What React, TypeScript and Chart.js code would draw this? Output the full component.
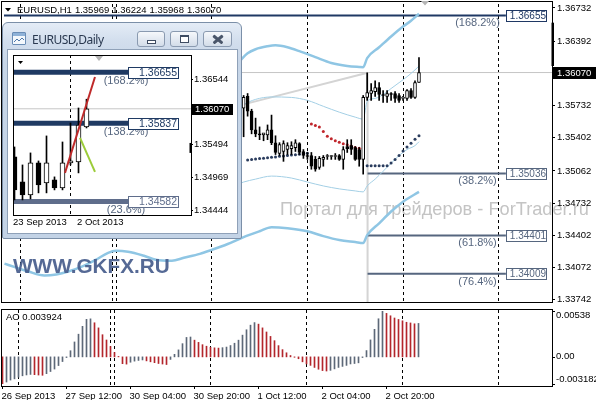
import React, { useEffect, useRef } from 'react';
import { Chart, registerables } from 'chart.js';

Chart.register(...registerables);

const FONT = "'Liberation Sans', Arial, Helvetica, sans-serif";
const AXIS_FONT_SIZE = 9.5;

// ---------------- H1 main chart data ----------------
const h1Title = 'EURUSD,H1';
const h1TitleValues = ['1.35969', '1.36224', '1.35968', '1.36070'];
const h1FirstBar = 60;
const h1Open = [1.35704, 1.35825, 1.35674, 1.35482, 1.35442, 1.35432, 1.35432, 1.35482, 1.35351, 1.3524, 1.35261, 1.35281, 1.35291, 1.35301, 1.35341, 1.35261, 1.3522, 1.3522, 1.3518, 1.35099, 1.3518, 1.3521, 1.3521, 1.3521, 1.3522, 1.3518, 1.35311, 1.35321, 1.35301, 1.35281, 1.3518, 1.35815, 1.35855, 1.35875, 1.35916, 1.35845, 1.35825, 1.35855, 1.35855, 1.35835, 1.35805, 1.35805, 1.35885, 1.35815, 1.35969];
const h1High = [1.35835, 1.35855, 1.35694, 1.35603, 1.35513, 1.35442, 1.35533, 1.35634, 1.35422, 1.35351, 1.35371, 1.35351, 1.35361, 1.35382, 1.35351, 1.35281, 1.35251, 1.35251, 1.3521, 1.3521, 1.3522, 1.3523, 1.3522, 1.3524, 1.3523, 1.35311, 1.35382, 1.35382, 1.35311, 1.35301, 1.35835, 1.36067, 1.35956, 1.35986, 1.35966, 1.35885, 1.35885, 1.35865, 1.35875, 1.35855, 1.35825, 1.35896, 1.35906, 1.35986, 1.36224];
const h1Low = [1.35412, 1.35623, 1.35442, 1.35412, 1.35382, 1.35371, 1.35382, 1.35331, 1.3523, 1.3522, 1.3516, 1.3523, 1.3523, 1.35261, 1.3523, 1.3519, 1.3518, 1.35079, 1.35059, 1.35079, 1.3511, 1.3518, 1.3518, 1.3518, 1.3517, 1.35079, 1.35251, 1.3523, 1.3517, 1.3511, 1.35029, 1.35785, 1.35785, 1.35825, 1.35785, 1.35765, 1.35765, 1.35785, 1.35765, 1.35765, 1.35785, 1.35785, 1.35805, 1.35805, 1.35968];
const h1Close = [1.35815, 1.35674, 1.35482, 1.35442, 1.35432, 1.35452, 1.35482, 1.35351, 1.35251, 1.35331, 1.35341, 1.35321, 1.35321, 1.35351, 1.35251, 1.3522, 1.3521, 1.3511, 1.35079, 1.3519, 1.352, 1.3521, 1.3521, 1.3522, 1.3518, 1.35281, 1.35291, 1.35281, 1.3518, 1.3518, 1.35815, 1.35865, 1.35885, 1.35916, 1.35845, 1.35835, 1.35855, 1.35845, 1.35805, 1.35785, 1.35805, 1.35885, 1.35815, 1.35966, 1.3607];
const h1Bars = h1Open.map((_, k) => h1FirstBar + k);

const priceTicks = [1.36732, 1.36392, 1.35732, 1.35402, 1.35062, 1.34732, 1.34402, 1.34072, 1.33742];
const lastPrice = 1.3607;
const priceMin = 1.337188;
const priceMax = 1.367723;
const barMin = -0.125;
const barMax = 137.375;
const dayGridBars = [4, 27, 28, 52, 76, 100, 124];
const timeLabelBars = [0, 16, 32, 48, 64, 80, 96];
const timeLabels = ['26 Sep 2013', '27 Sep 12:00', '30 Sep 04:00', '30 Sep 20:00', '1 Oct 12:00', '2 Oct 04:00', '2 Oct 20:00'];

// Bands (outer thick, inner thin)
const outerUpperBars = [58, 59, 61, 63, 66, 68, 71, 74, 78, 82, 86, 89, 90, 91, 94, 97, 100, 102, 104];
const outerUpperVals = [1.36148, 1.36188, 1.36268, 1.36309, 1.36339, 1.36349, 1.36329, 1.36289, 1.36228, 1.36168, 1.36137, 1.36127, 1.36125, 1.36218, 1.36329, 1.3644, 1.36541, 1.36601, 1.36672];
const innerUpperBars = [58, 60, 63, 67, 72, 76, 80, 84, 88, 90, 91, 93, 95, 97, 99, 101, 103, 104];
const innerUpperVals = [1.35704, 1.35744, 1.35795, 1.3582, 1.35815, 1.35785, 1.35724, 1.35664, 1.35613, 1.35593, 1.35775, 1.35805, 1.35845, 1.35906, 1.35966, 1.36027, 1.36097, 1.36137];
const outerLowerBars = [0, 3, 6, 10, 13, 16, 20, 23, 26, 28, 31, 35, 38, 42, 45, 49, 52, 56, 60, 64, 67, 71, 76, 80, 84, 88, 90, 91, 94, 97, 100, 104];
const outerLowerVals = [1.34112, 1.34071, 1.34031, 1.33991, 1.34001, 1.34031, 1.34092, 1.34152, 1.34223, 1.34243, 1.34233, 1.34192, 1.34152, 1.34142, 1.34172, 1.34212, 1.34253, 1.34313, 1.34384, 1.34444, 1.34485, 1.34475, 1.34444, 1.34394, 1.34354, 1.34333, 1.34323, 1.34404, 1.34525, 1.34646, 1.34747, 1.34847];
const innerLowerBars = [58, 60, 63, 67, 72, 76, 80, 84, 88, 90, 91, 93, 95, 97, 99, 101, 103, 104];
const innerLowerVals = [1.34918, 1.34948, 1.34978, 1.35009, 1.34989, 1.34948, 1.34908, 1.34878, 1.34857, 1.34847, 1.34908, 1.34978, 1.35059, 1.3514, 1.3522, 1.35281, 1.35321, 1.35361];

// Parabolic SAR
const sarUpBarsA = [61, 62, 63, 64, 65, 66, 67, 68, 69, 70, 71, 72, 73, 74, 75, 76];
const sarUpValsA = [1.35175, 1.35179, 1.35185, 1.35188, 1.35193, 1.35196, 1.35202, 1.35205, 1.35211, 1.35214, 1.3522, 1.35224, 1.35228, 1.35234, 1.35237, 1.35243];
const sarDownBars = [77, 78, 79, 80, 81, 82, 83, 84, 85, 86, 87, 88, 89, 90];
const sarDownVals = [1.35543, 1.35528, 1.35512, 1.35467, 1.35417, 1.35391, 1.35371, 1.35356, 1.35341, 1.35331, 1.35316, 1.35301, 1.35295, 1.3529];
const sarUpBarsB = [91, 92, 93, 94, 95, 96, 97, 98, 99, 100, 101, 102, 103, 104];
const sarUpValsB = [1.35114, 1.35114, 1.35114, 1.35114, 1.35114, 1.35114, 1.35144, 1.3518, 1.3522, 1.35265, 1.35306, 1.35346, 1.35386, 1.35422];

// Fibonacci objects
const fibTrendBars = [60, 91.1];
const fibTrendPrices = [1.35744, 1.36067];
const fibAnchorBar = 91.1;
const fibAnchorHigh = 1.36067;
const fibAnchorLow = 1.3355;
const mainFibLevels = [1.36655, 1.35036, 1.34401, 1.34009];
const mainFibLabels = ['(168.2%)', '(38.2%)', '(61.8%)', '(76.4%)'];
const mainFibStart = [-0.125, 91.1, 91.1, 91.1];
const mainFibEnd = 125.8;
const mainFibColors = ['#1f3864', '#56667f', '#56667f', '#56667f'];
const axisMarkTop = 1.36581;
const axisMarkBottom = 1.36137;

// ---------------- AO ----------------
const aoLabel = 'AO 0.003924';
const aoTicks = [0.00538, 0, -0.003182];
const aoTickLabels = ['0.00538', '0.00', '-0.003182'];
const aoValues = [
  -0.003182, -0.00295, -0.00272, -0.00258, -0.00238, -0.00222, -0.00212, -0.00206, -0.00209, -0.00213,
  -0.00216, -0.00197, -0.00172, -0.00143, -0.00102, -0.00055, -0.00008, 0.00072, 0.00175, 0.00266,
  0.00358, 0.0044, 0.00446, 0.004, 0.0034, 0.0026, 0.00198, 0.00122, 0.00052, 0.00005,
  -0.0008, -0.00085, -0.00063, -0.0005, -0.00042, -0.00036, -0.00047, -0.00058, -0.00068, -0.00078,
  -0.00084, -0.0009, -0.0003, 0.0003, 0.00082, 0.00155, 0.00228, 0.00233, 0.00196, 0.0017,
  0.00143, 0.00125, 0.00112, 0.00106, 0.00103, 0.00108, 0.00115, 0.00133, 0.0016, 0.00196,
  0.00255, 0.00318, 0.00372, 0.00402, 0.00384, 0.0034, 0.00292, 0.0024, 0.0019, 0.00132,
  0.00085, 0.00048, 0.00016, -0.00005, -0.00022, -0.00058, -0.00083, -0.001, -0.00124, -0.00145,
  -0.00161, -0.00166, -0.00158, -0.00141, -0.00124, -0.00112, -0.001, -0.00083, -0.00078, -0.0007,
  -0.00008, 0.00074, 0.00199, 0.00323, 0.00447, 0.00538, 0.0051, 0.00482, 0.00456, 0.00439,
  0.00423, 0.00406, 0.00398, 0.00388, 0.003924,
];

// ---------------- Daily inset ----------------
const dailyOpen = [1.35297, 1.34895, 1.34687, 1.352, 1.34879, 1.34927, 1.34799, 1.352, 1.35216, 1.35778];
const dailyHigh = [1.35457, 1.35168, 1.35361, 1.35232, 1.35634, 1.34976, 1.35537, 1.35842, 1.36083, 1.36224];
const dailyLow = [1.34606, 1.34606, 1.34622, 1.34719, 1.34719, 1.34767, 1.34767, 1.35168, 1.3504, 1.35762];
const dailyClose = [1.34767, 1.34687, 1.352, 1.34847, 1.352, 1.34799, 1.352, 1.35232, 1.3581, 1.3607];
const dailyBars = dailyOpen.map((_, k) => k);
const dailyLabelBars = [0, 8];
const dailyLabels = ['23 Sep 2013', '2 Oct 2013'];
const dailyGridBars = [7];
const dailyTicks = [1.36544, 1.35494, 1.34969, 1.34444];
const dailyBarMin = -0.1875;
const dailyBarMax = 22.0625;
const dailyPriceMin = 1.343637;
const dailyPriceMax = 1.369341;
const dailyFibLevels = [1.36655, 1.35837, 1.34582];
const dailyFibLabels = ['(168.2%)', '(138.2%)', '(23.6%)'];
const dailyFibColors = ['#1f3a63', '#1f3a63', '#5f6d8b'];
const dailyFibEnd = 14.19;
const redTrendBars = [6.31, 10.06];
const redTrendPrices = [1.3504, 1.36581];
const greenTrendBars = [8.19, 10.06];
const greenTrendPrices = [1.35602, 1.35056];
const dailyAxisMarkTop = 1.35521;
const dailyAxisMarkBottom = 1.35361;

const forTraderText = 'Портал для трейдеров - ForTrader.ru';
const gkfxText = 'WWW.GKFX.RU';

// ---------------- helpers ----------------
function lineSet(xs: number[], ys: number[], color: string, width: number, order: number, extra: any = {}) {
  return {
    type: 'line',
    data: xs.map((x, k) => ({ x, y: ys[k] })),
    borderColor: color,
    borderWidth: width,
    pointRadius: 0,
    fill: false,
    order,
    clip: 0,
    ...extra,
  };
}
function dotSet(xs: number[], ys: number[], color: string) {
  return {
    type: 'line',
    data: xs.map((x, k) => ({ x, y: ys[k] })),
    showLine: false,
    pointRadius: 1.5,
    pointBackgroundColor: color,
    pointBorderWidth: 0,
    order: 2,
  };
}
function candleSets(bars: number[], o: number[], h: number[], l: number[], c: number[], bodyW: number) {
  return [
    {
      type: 'bar',
      data: bars.map((b, k) => ({ x: b, y: [l[k], h[k]] })),
      backgroundColor: '#000',
      barThickness: 1,
      grouped: false,
      order: 1,
    },
    {
      type: 'bar',
      data: bars.map((b, k) => ({ x: b, y: [o[k], c[k]] })),
      backgroundColor: bars.map((_, k) => (c[k] >= o[k] ? '#ffffff' : '#000000')),
      borderColor: '#000',
      borderWidth: 1,
      borderSkipped: false,
      barThickness: bodyW,
      grouped: false,
      minBarLength: 1,
      order: 0,
    },
  ];
}
function fitFont(ctx: CanvasRenderingContext2D, text: string, weight: string, target: number, base: number) {
  ctx.font = `${weight} ${base}px ${FONT}`;
  const w = ctx.measureText(text).width;
  const size = (base * target) / w;
  ctx.font = `${weight} ${size.toFixed(2)}px ${FONT}`;
}
function dashedV(ctx: CanvasRenderingContext2D, px: number, top: number, bottom: number) {
  const x = Math.floor(px) + 0.5;
  ctx.beginPath();
  ctx.moveTo(x, top);
  ctx.lineTo(x, bottom);
  ctx.stroke();
}

// ---------------- main chart ----------------
const mainDecor = {
  id: 'mainDecor',
  beforeDraw(chart: any) {
    const { ctx } = chart;
    ctx.save();
    fitFont(ctx, forTraderText, 'normal', 309, 16);
    ctx.fillStyle = '#c4c4c4';
    ctx.textAlign = 'left';
    ctx.textBaseline = 'alphabetic';
    ctx.fillText(forTraderText, 280, 215);
    ctx.restore();
  },
  beforeDatasetsDraw(chart: any) {
    const { ctx, chartArea: a, scales } = chart;
    ctx.save();
    ctx.strokeStyle = '#000';
    ctx.lineWidth = 1;
    ctx.setLineDash([3, 3]);
    dayGridBars.forEach((b) => dashedV(ctx, scales.x.getPixelForValue(b), a.top, a.bottom));
    ctx.restore();
  },
  afterDatasetsDraw(chart: any) {
    const { ctx, scales } = chart;
    const x = scales.x;
    const y = scales.y;
    ctx.save();
    const bx = Math.round(x.getPixelForValue(mainFibEnd));
    mainFibLevels.forEach((lv, k) => {
      const py = y.getPixelForValue(lv);
      const col = mainFibColors[k];
      ctx.font = `11px ${FONT}`;
      ctx.fillStyle = '#56667f';
      ctx.textAlign = 'center';
      ctx.textBaseline = 'middle';
      ctx.fillText(mainFibLabels[k], bx - 28.5, py + 8);
      const top = Math.round(py - 5.5);
      ctx.fillStyle = '#fff';
      ctx.fillRect(bx, top, 41, 11);
      ctx.strokeStyle = col;
      ctx.lineWidth = 1;
      ctx.strokeRect(bx + 0.5, top + 0.5, 40, 11);
      ctx.font = `10px ${FONT}`;
      ctx.fillStyle = col;
      ctx.textAlign = 'right';
      ctx.fillText(lv.toFixed(5), bx + 40, top + 6.5);
    });
    fitFont(ctx, gkfxText, 'bold', 157, 21);
    ctx.fillStyle = 'rgba(70,92,140,0.92)';
    ctx.textAlign = 'left';
    ctx.textBaseline = 'alphabetic';
    ctx.fillText(gkfxText, 13, 273);
    ctx.restore();
  },
  afterDraw(chart: any) {
    const { ctx, chartArea: a, scales } = chart;
    const y = scales.y;
    ctx.save();
    ctx.strokeStyle = '#000';
    ctx.lineWidth = 1;
    ctx.strokeRect(1.5, 1.5, a.right - 1, a.bottom - 1);
    const t = y.getPixelForValue(axisMarkTop);
    const b = y.getPixelForValue(axisMarkBottom);
    ctx.fillStyle = '#000';
    ctx.fillRect(a.right - 0.5, t, 2.5, b - t);
    const py = Math.round(y.getPixelForValue(lastPrice));
    ctx.fillStyle = '#000';
    ctx.fillRect(a.right + 1, py - 6, 596 - a.right - 1, 12);
    ctx.fillStyle = '#fff';
    ctx.font = `${AXIS_FONT_SIZE}px ${FONT}`;
    ctx.textAlign = 'left';
    ctx.textBaseline = 'middle';
    ctx.fillText(lastPrice.toFixed(5), a.right + 5, py + 0.5);
    ctx.fillStyle = '#000';
    ctx.beginPath();
    ctx.moveTo(5, 8);
    ctx.lineTo(11, 8);
    ctx.lineTo(8, 11.5);
    ctx.closePath();
    ctx.fill();
    ctx.font = `${AXIS_FONT_SIZE}px ${FONT}`;
    ctx.textBaseline = 'alphabetic';
    let tx = 17;
    [h1Title, ...h1TitleValues].forEach((s) => {
      ctx.fillText(s, tx, 12.5);
      tx += ctx.measureText(s).width + 3;
    });
    ctx.fillStyle = '#b4b4b4';
    ctx.beginPath();
    ctx.moveTo(421, 1);
    ctx.lineTo(429, 1);
    ctx.lineTo(425, 5.5);
    ctx.closePath();
    ctx.fill();
    ctx.restore();
  },
};

function buildMain() {
  const datasets: any[] = [
    lineSet([barMin, barMax], [lastPrice, lastPrice], '#c6c6c6', 1, 9),
    lineSet(fibTrendBars, fibTrendPrices, '#d4d4d4', 2, 8),
    lineSet([fibAnchorBar, fibAnchorBar], [fibAnchorHigh, fibAnchorLow], '#d4d4d4', 2, 8),
    ...mainFibLevels.map((lv, k) => lineSet([mainFibStart[k], mainFibEnd], [lv, lv], mainFibColors[k], 2, 7)),
    lineSet(outerUpperBars, outerUpperVals, '#8fc6e4', 2.5, 6, { cubicInterpolationMode: 'monotone' }),
    lineSet(outerLowerBars, outerLowerVals, '#8fc6e4', 2.5, 6, { cubicInterpolationMode: 'monotone' }),
    lineSet(innerUpperBars, innerUpperVals, '#a3cfe5', 1, 6, { cubicInterpolationMode: 'monotone' }),
    lineSet(innerLowerBars, innerLowerVals, '#a3cfe5', 1, 6, { cubicInterpolationMode: 'monotone' }),
    dotSet(sarUpBarsA, sarUpValsA, '#2b3d5e'),
    dotSet(sarDownBars, sarDownVals, '#c0262c'),
    dotSet(sarUpBarsB, sarUpValsB, '#2b3d5e'),
    ...candleSets(h1Bars, h1Open, h1High, h1Low, h1Close, 3),
  ];
  return {
    type: 'bar',
    data: { datasets },
    options: {
      responsive: false,
      animation: false,
      devicePixelRatio: 1,
      events: [],
      layout: { padding: { left: 2, top: 2, right: 0, bottom: 1 } },
      plugins: { legend: { display: false }, tooltip: { enabled: false } },
      scales: {
        x: { type: 'linear', min: barMin, max: barMax, display: false, offset: false },
        y: {
          type: 'linear',
          position: 'right',
          min: priceMin,
          max: priceMax,
          afterBuildTicks: (s: any) => {
            s.ticks = priceTicks.map((v) => ({ value: v }));
          },
          afterFit: (s: any) => {
            s.width = 44;
            s.paddingTop = 0;
            s.paddingBottom = 0;
          },
          ticks: {
            autoSkip: false,
            padding: 2,
            color: '#000',
            font: { family: FONT, size: AXIS_FONT_SIZE },
            callback: (v: any) => Number(v).toFixed(5),
          },
          grid: { drawOnChartArea: false, drawTicks: true, tickLength: 3, color: '#000' },
          border: { display: true, color: '#000' },
        },
      },
    },
    plugins: [mainDecor],
  };
}

// ---------------- AO chart ----------------
const aoDecor = {
  id: 'aoDecor',
  beforeDatasetsDraw(chart: any) {
    const { ctx, scales } = chart;
    ctx.save();
    ctx.strokeStyle = '#000';
    ctx.lineWidth = 1;
    ctx.setLineDash([3, 3]);
    dayGridBars.forEach((b) => dashedV(ctx, scales.x.getPixelForValue(b), 4, 80));
    ctx.restore();
  },
  afterDraw(chart: any) {
    const { ctx, chartArea: a, scales } = chart;
    ctx.save();
    ctx.strokeStyle = '#000';
    ctx.lineWidth = 1;
    ctx.strokeRect(1.5, 3.5, a.right - 1, 77);
    ctx.font = `${AXIS_FONT_SIZE}px ${FONT}`;
    ctx.fillStyle = '#000';
    ctx.textAlign = 'left';
    ctx.textBaseline = 'middle';
    aoTicks.forEach((v, k) => {
      const py = scales.y.getPixelForValue(v);
      ctx.beginPath();
      ctx.moveTo(a.right, Math.round(py) + 0.5);
      ctx.lineTo(a.right + 3, Math.round(py) + 0.5);
      ctx.stroke();
      const ly = Math.min(Math.max(py, a.top + 4), a.bottom - 5);
      ctx.fillText(aoTickLabels[k], a.right + 4, ly);
    });
    ctx.fillText(aoLabel, 6, 11);
    ctx.textBaseline = 'alphabetic';
    timeLabelBars.forEach((b, k) => {
      const px = scales.x.getPixelForValue(b);
      ctx.beginPath();
      ctx.moveTo(Math.floor(px) + 0.5, 80);
      ctx.lineTo(Math.floor(px) + 0.5, 83);
      ctx.stroke();
      ctx.fillText(timeLabels[k], px - 1, 92.5);
    });
    ctx.restore();
  },
};

function buildAO() {
  const colors = aoValues.map((v, i) => (i > 0 && v > aoValues[i - 1] ? '#5d6878' : '#b3262c'));
  return {
    type: 'bar',
    data: {
      datasets: [
        {
          data: aoValues.map((v, i) => ({ x: i, y: v })),
          backgroundColor: colors,
          barThickness: 1,
          grouped: false,
        },
      ],
    },
    options: {
      responsive: false,
      animation: false,
      devicePixelRatio: 1,
      events: [],
      layout: { padding: { left: 2, top: 5, right: 44, bottom: 16 } },
      plugins: { legend: { display: false }, tooltip: { enabled: false } },
      scales: {
        x: { type: 'linear', min: barMin, max: barMax, display: false, offset: false },
        y: { type: 'linear', min: aoTicks[2], max: aoTicks[0], display: false },
      },
    },
    plugins: [aoDecor],
  };
}

// ---------------- Daily inset ----------------
const insetDecor = {
  id: 'insetDecor',
  beforeDatasetsDraw(chart: any) {
    const { ctx, chartArea: a, scales } = chart;
    ctx.save();
    ctx.strokeStyle = '#000';
    ctx.lineWidth = 1;
    ctx.setLineDash([3, 3]);
    dailyGridBars.forEach((b) => dashedV(ctx, scales.x.getPixelForValue(b), a.top, a.bottom));
    ctx.restore();
  },
  afterDatasetsDraw(chart: any) {
    const { ctx, scales } = chart;
    ctx.save();
    const bx = Math.round(scales.x.getPixelForValue(dailyFibEnd));
    dailyFibLevels.forEach((lv, k) => {
      const py = scales.y.getPixelForValue(lv);
      ctx.font = `11px ${FONT}`;
      ctx.fillStyle = '#56667f';
      ctx.textAlign = 'center';
      ctx.textBaseline = 'middle';
      ctx.fillText(dailyFibLabels[k], bx - 2, py + 8.5);
      const top = Math.round(py - 5.5);
      ctx.fillStyle = '#fff';
      ctx.fillRect(bx, top, 51, 12);
      ctx.strokeStyle = dailyFibColors[k];
      ctx.lineWidth = 1;
      ctx.strokeRect(bx + 0.5, top + 0.5, 50, 11);
      ctx.font = `10.5px ${FONT}`;
      ctx.fillStyle = dailyFibColors[k];
      ctx.textAlign = 'right';
      ctx.fillText(lv.toFixed(5), bx + 49, top + 6.5);
    });
    ctx.restore();
  },
  afterDraw(chart: any) {
    const { ctx, chartArea: a, scales } = chart;
    const y = scales.y;
    ctx.save();
    ctx.strokeStyle = '#000';
    ctx.lineWidth = 1;
    ctx.strokeRect(a.left + 0.5, a.top + 0.5, a.right - a.left, a.bottom - a.top);
    const t = y.getPixelForValue(dailyAxisMarkTop);
    const b = y.getPixelForValue(dailyAxisMarkBottom);
    ctx.fillStyle = '#000';
    ctx.fillRect(a.right - 1.5, t, 2.5, b - t);
    const py = Math.round(y.getPixelForValue(lastPrice));
    ctx.fillRect(a.right + 1, py - 5, 41, 11);
    ctx.fillStyle = '#fff';
    ctx.font = `${AXIS_FONT_SIZE}px ${FONT}`;
    ctx.textAlign = 'left';
    ctx.textBaseline = 'middle';
    ctx.fillText(lastPrice.toFixed(5), a.right + 4, py + 0.5);
    ctx.fillStyle = '#000';
    ctx.textBaseline = 'alphabetic';
    dailyLabelBars.forEach((bar, k) => {
      const px = scales.x.getPixelForValue(bar);
      ctx.fillText(dailyLabels[k], Math.max(px - 1.5, a.left), a.bottom + 10);
    });
    ctx.beginPath();
    ctx.moveTo(a.left + 5, a.top + 6);
    ctx.lineTo(a.left + 10, a.top + 6);
    ctx.lineTo(a.left + 7.5, a.top + 9);
    ctx.closePath();
    ctx.fill();
    ctx.fillStyle = '#b4b4b4';
    ctx.beginPath();
    ctx.moveTo(a.left + 82, a.top + 1);
    ctx.lineTo(a.left + 90, a.top + 1);
    ctx.lineTo(a.left + 86, a.top + 6);
    ctx.closePath();
    ctx.fill();
    ctx.restore();
  },
};

function buildInset() {
  const datasets: any[] = [
    lineSet([dailyBarMin, dailyBarMax], [lastPrice, lastPrice], '#c6c6c6', 1, 9),
    ...dailyFibLevels.map((lv, k) => lineSet([dailyBarMin, dailyFibEnd], [lv, lv], dailyFibColors[k], 5, 7)),
    ...candleSets(dailyBars, dailyOpen, dailyHigh, dailyLow, dailyClose, 5),
    lineSet(redTrendBars, redTrendPrices, '#bf2a2a', 2, -1),
    lineSet(greenTrendBars, greenTrendPrices, '#9ccc3a', 2, -1),
  ];
  return {
    type: 'bar',
    data: { datasets },
    options: {
      responsive: false,
      animation: false,
      devicePixelRatio: 1,
      events: [],
      layout: { padding: { left: 5, top: 5, right: 0, bottom: 18 } },
      plugins: { legend: { display: false }, tooltip: { enabled: false } },
      scales: {
        x: { type: 'linear', min: dailyBarMin, max: dailyBarMax, display: false, offset: false },
        y: {
          type: 'linear',
          position: 'right',
          min: dailyPriceMin,
          max: dailyPriceMax,
          afterBuildTicks: (s: any) => {
            s.ticks = dailyTicks.map((v) => ({ value: v }));
          },
          afterFit: (s: any) => {
            s.width = 46;
            s.paddingTop = 0;
            s.paddingBottom = 0;
          },
          ticks: {
            autoSkip: false,
            padding: 1,
            color: '#000',
            font: { family: FONT, size: AXIS_FONT_SIZE },
            callback: (v: any) => Number(v).toFixed(5),
          },
          grid: { drawOnChartArea: false, drawTicks: true, tickLength: 2, color: '#000' },
          border: { display: false },
        },
      },
    },
    plugins: [insetDecor],
  };
}

const btnStyle: any = {
  position: 'absolute',
  top: 8,
  height: 16,
  boxSizing: 'border-box',
  border: '1px solid #8a9ab0',
  borderRadius: 3,
  background: 'linear-gradient(180deg, #f6f8fb 0%, #e4eaf2 50%, #d3dde9 100%)',
};

export default function App() {
  const mainRef = useRef<HTMLCanvasElement>(null);
  const aoRef = useRef<HTMLCanvasElement>(null);
  const insetRef = useRef<HTMLCanvasElement>(null);

  useEffect(() => {
    const charts = [
      new Chart(mainRef.current as any, buildMain() as any),
      new Chart(aoRef.current as any, buildAO() as any),
      new Chart(insetRef.current as any, buildInset() as any),
    ];
    return () => charts.forEach((c) => c.destroy());
  }, []);

  return (
    <div style={{ position: 'fixed', left: 0, top: 0, width: 596, height: 400, background: '#fff', overflow: 'hidden' }}>
      <canvas ref={mainRef} width={596} height={306} style={{ position: 'absolute', left: 0, top: 0 }} />
      <canvas ref={aoRef} width={596} height={94} style={{ position: 'absolute', left: 0, top: 306 }} />
      <div
        style={{
          position: 'absolute',
          left: 2,
          top: 22,
          width: 240,
          height: 217,
          boxSizing: 'border-box',
          border: '1px solid #7b8fa8',
          borderRadius: '6px 6px 2px 2px',
          background: 'linear-gradient(180deg, #e4ecf6 0px, #d2deed 18px, #c7d6e8 40px, #c3d3e6 100%)',
          overflow: 'hidden',
        }}
      >
        <div
          style={{
            position: 'absolute',
            left: 9,
            top: 9,
            width: 14,
            height: 13,
            boxSizing: 'border-box',
            border: '1px solid #6a8db6',
            borderRadius: 1,
            background: '#f4f8fc',
          }}
        >
          <div style={{ position: 'absolute', left: 0, top: 0, width: 12, height: 3, background: '#8fb2d8' }} />
          <svg width="12" height="8" style={{ position: 'absolute', left: 0, top: 3 }}>
            <polyline points="1,6 4,3 6,5 9,2 11,4" fill="none" stroke="#4f79ab" strokeWidth="1" />
          </svg>
        </div>
        <div
          style={{
            position: 'absolute',
            left: 29,
            top: 9,
            lineHeight: '16px',
            fontFamily: "'Noto Sans', 'Open Sans', sans-serif",
            fontSize: 12,
            letterSpacing: -0.5,
            color: '#2a3950',
            whiteSpace: 'nowrap',
          }}
        >
          EURUSD,Daily
        </div>
        <div style={{ ...btnStyle, left: 134, width: 28 }}>
          <div
            style={{
              position: 'absolute',
              left: 9,
              top: 8,
              width: 9,
              height: 4,
              boxSizing: 'border-box',
              border: '1px solid #3e4c62',
              background: '#fff',
            }}
          />
        </div>
        <div style={{ ...btnStyle, left: 167, width: 28 }}>
          <div
            style={{
              position: 'absolute',
              left: 9,
              top: 3,
              width: 9,
              height: 8,
              boxSizing: 'border-box',
              border: '1px solid #3e4c62',
              borderTopWidth: 2,
              background: '#fff',
            }}
          />
        </div>
        <div style={{ ...btnStyle, left: 200, width: 29 }}>
          <div
            style={{
              position: 'absolute',
              left: 8,
              top: 6,
              width: 12,
              height: 2.5,
              background: '#4a566a',
              transform: 'rotate(40deg)',
              borderRadius: 1,
            }}
          />
          <div
            style={{
              position: 'absolute',
              left: 8,
              top: 6,
              width: 12,
              height: 2.5,
              background: '#4a566a',
              transform: 'rotate(-40deg)',
              borderRadius: 1,
            }}
          />
        </div>
        <div
          style={{
            position: 'absolute',
            left: 4,
            top: 26,
            width: 231,
            height: 185,
            boxSizing: 'border-box',
            border: '1px solid #8fa1b8',
            background: '#fff',
          }}
        >
          <canvas ref={insetRef} width={229} height={183} style={{ display: 'block' }} />
        </div>
      </div>
    </div>
  );
}
